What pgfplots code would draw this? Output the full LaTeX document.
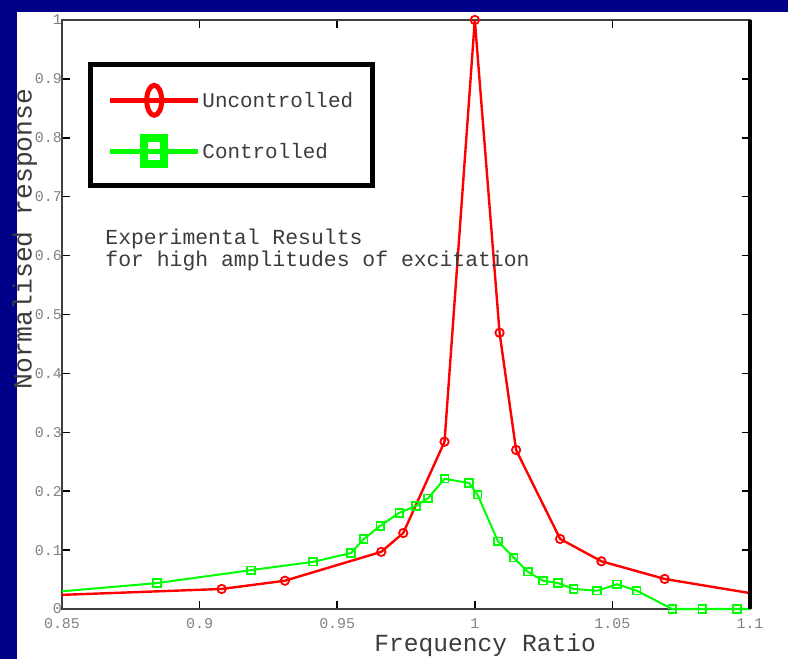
\documentclass[border=0pt]{standalone}
\usepackage{fontspec}
\setmonofont{Liberation Mono}
\usepackage{pgfplots}
\pgfplotsset{compat=1.18}

\definecolor{slidebg}{RGB}{0,0,136}
\definecolor{ured}{RGB}{255,0,0}
\definecolor{cgreen}{RGB}{0,255,0}
\definecolor{txtgray}{RGB}{60,60,60}
\definecolor{tickgray}{RGB}{130,130,130}

\begin{document}
\begin{tikzpicture}
% slide background
\fill[slidebg] (0,0) rectangle (788bp,659bp);
\fill[white] (17bp,0) rectangle (788bp,647bp);

\begin{axis}[
  at={(62bp,50bp)}, anchor=south west,
  scale only axis,
  width=688bp, height=589bp,
  xmin=0.85, xmax=1.1,
  ymin=0, ymax=1,
  xtick={0.85,0.9,0.95,1,1.05,1.1},
  xticklabels={0.85,0.9,0.95,1,1.05,1.1},
  ytick={0,0.1,0.2,0.3,0.4,0.5,0.6,0.7,0.8,0.9,1},
  yticklabels={0,0.1,0.2,0.3,0.4,0.5,0.6,0.7,0.8,0.9,1},
  tick align=inside,
  major tick length=8bp,
  tick style={line width=1.5bp, black},
  axis line style={line width=1.5bp, black!75},
  ticklabel style={font=\ttfamily\fontsize{15}{15}\selectfont, text=tickgray},
  xticklabel style={yshift=-6bp},
  yticklabel style={inner xsep=0bp},
  xlabel={Frequency Ratio},
  ylabel={Normalised response},
  xlabel style={font=\ttfamily\fontsize{24.7}{25}\selectfont, text=txtgray,
    at={(axis description cs:0.615,-0.062)}, anchor=center},
  ylabel style={font=\ttfamily\fontsize{26.5}{27}\selectfont, text=txtgray,
    at={(axis description cs:-0.054,0.628)}, anchor=center, rotate=0},
  clip=false,
  legend style={at={(axis description cs:0.0385,0.929)}, anchor=north west,
    draw=black, line width=5bp, fill=white,
    font=\ttfamily\fontsize{21}{21}\selectfont, text=txtgray,
    inner xsep=17bp, inner ysep=21bp, row sep=23bp},
  legend cell align=left,
  % line in two halves so that only the middle point gets a mark
  legend image code/.code={
    \draw[#1, mark=none] (0bp,0bp) -- (44bp,0bp);
    \draw[#1] plot coordinates {(88bp,0bp) (44bp,0bp)};},
]

% Uncontrolled
\addplot[color=ured, line width=2.4bp, mark=o, mark size=4.2bp,
  mark options={solid, line width=1.8bp},
  mark indices={2,3,4,5,6,7,8,9,10,11,12},
  legend image post style={line width=4.5bp, mark size=15bp,
    mark options={solid, line width=5bp, xscale=0.5}}]
  coordinates {(0.85,0.024) (0.908,0.034) (0.931,0.048) (0.966,0.097) (0.974,0.129)
    (0.989,0.284) (1.0,1.0) (1.009,0.469) (1.015,0.27) (1.031,0.119)
    (1.046,0.081) (1.069,0.051) (1.1,0.027)};

% Controlled
\addplot[color=cgreen, line width=2bp, mark=square, mark size=3.8bp,
  mark options={solid, line width=1.6bp},
  mark indices={2,3,4,5,6,7,8,9,10,11,12,13,14,15,16,17,18,19,20,21,22,23,24,25},
  legend image post style={line width=4.5bp, mark size=13bp,
    mark options={solid, line width=8bp, xscale=0.77}}]
  coordinates {(0.85,0.030) (0.8845,0.044) (0.9187,0.066) (0.9412,0.080) (0.955,0.095)
    (0.9597,0.119) (0.9656,0.141) (0.9725,0.163) (0.9786,0.175) (0.983,0.188)
    (0.989,0.221) (0.9979,0.214) (1.001,0.194) (1.0084,0.115) (1.0142,0.087)
    (1.0193,0.063) (1.0248,0.048) (1.0302,0.044) (1.036,0.034) (1.0444,0.031)
    (1.0517,0.042) (1.0589,0.031) (1.0717,0) (1.0826,0) (1.0953,0) (1.1,0)};

\legend{Uncontrolled, Controlled}

\draw[line width=4bp, black] (rel axis cs:1,0) -- (rel axis cs:1,1);

\node[anchor=base west, font=\ttfamily\fontsize{21.5}{22}\selectfont, text=txtgray]
  at (axis description cs:0.058,0.618) {Experimental Results};
\node[anchor=base west, font=\ttfamily\fontsize{21.5}{22}\selectfont, text=txtgray]
  at (axis description cs:0.058,0.582) {for high amplitudes of excitation};
\end{axis}

\pgfresetboundingbox
\path (0,0) rectangle (788bp,659bp);
\end{tikzpicture}
\end{document}
